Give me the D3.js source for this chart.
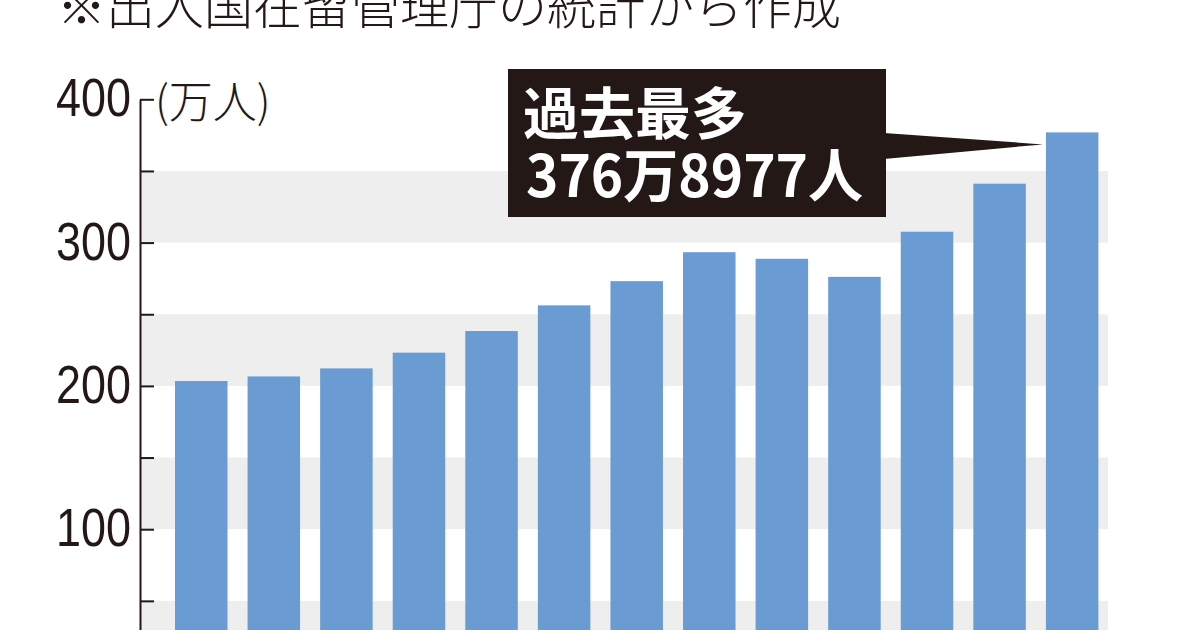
<!DOCTYPE html>
<html><head><meta charset="utf-8">
<script src="https://cdn.jsdelivr.net/npm/d3@7"></script>
<style>html,body{margin:0;padding:0;background:#fff;overflow:hidden;} svg{display:block;}</style>
</head><body>
<svg id="chart" width="1200" height="630"></svg>
<script>
// ---- data ----
const years = ["2012","2013","2014","2015","2016","2017","2018","2019","2020","2021","2022","2023","2024"];
const residents = [203.4, 206.6, 212.2, 223.2, 238.3, 256.2, 273.1, 293.3, 288.7, 276.1, 307.6, 341.1, 376.9];
const yTicks = [0, 50, 100, 150, 200, 250, 300, 350, 400];
const yLabelValues = [100, 200, 300, 400];
const yLabelTexts = ["100", "200", "300", "400"];
const shadedBands = [[0, 50], [100, 150], [200, 250], [300, 350]];
const titleText = "※出入国在留管理庁の統計から作成";
const unitText = "(万人)";
const calloutLines = ["過去最多", "376万8977人"];

// ---- setup ----
const svg = d3.select("#chart");
const ink = "#231815";
const barColor = "#6a9bd3";
const bandColor = "#eeeeee";
const cjk = "'Noto Sans CJK JP','Noto Sans CJK SC',sans-serif";
const latin = "'Liberation Sans Narrow','Liberation Sans',Arial,sans-serif";

const axisX = 140, plotRight = 1108;
const y = d3.scaleLinear().domain([0, 400]).range([672.5, 99.3]);
const x = d3.scaleBand().domain(years).range([164.9, 1108.5]).paddingInner(0.2767).paddingOuter(0.139);

// shaded bands
svg.append("g").selectAll("rect").data(shadedBands).join("rect")
  .attr("x", axisX + 1).attr("width", plotRight - axisX - 1)
  .attr("y", d => y(d[1])).attr("height", d => y(d[0]) - y(d[1]))
  .attr("fill", bandColor);

// bars
svg.append("g").selectAll("rect").data(residents).join("rect")
  .attr("x", (d, i) => x(years[i])).attr("width", x.bandwidth())
  .attr("y", d => y(d)).attr("height", d => y(0) - y(d))
  .attr("fill", barColor);

// axis
const axis = d3.axisRight(y).tickValues(yTicks).tickSize(14).tickSizeOuter(0).tickFormat("");
const gAxis = svg.append("g").attr("transform", `translate(${axisX},0)`).call(axis);
gAxis.selectAll("path,line").attr("stroke", ink).attr("stroke-width", 2);

// y labels (condensed)
svg.append("g").selectAll("text").data(yLabelValues).join("text")
  .attr("x", 131).attr("y", d => y(d) + 17)
  .attr("text-anchor", "end")
  .attr("font-family", latin).attr("font-size", 54).attr("fill", ink)
  .attr("textLength", (d, i) => yLabelTexts[i].length * 25)
  .attr("lengthAdjust", "spacingAndGlyphs")
  .text((d, i) => yLabelTexts[i]);

// unit
svg.append("text").attr("x", 155).attr("y", 118)
  .attr("font-family", cjk).attr("font-size", 44).attr("font-weight", 300).attr("fill", ink)
  .text(unitText);

// title
svg.append("text").attr("x", 57).attr("y", 24)
  .attr("font-family", cjk).attr("font-size", 49).attr("font-weight", 300).attr("fill", ink)
  .text(titleText);

// callout
const lastIdx = residents.length - 1;
const tipX = x(years[lastIdx]) - 3, tipY = y(residents[lastIdx]) + 12;
const box = {x0: 508, y0: 69, x1: 886, y1: 217};
const gC = svg.append("g");
gC.append("path")
  .attr("d", d3.line()([[box.x1 - 2, 133], [tipX, tipY], [box.x1 - 2, 159]]) + "Z")
  .attr("fill", ink);
gC.append("rect").attr("x", box.x0).attr("y", box.y0)
  .attr("width", box.x1 - box.x0).attr("height", box.y1 - box.y0).attr("fill", ink);
const ct = gC.append("text")
  .attr("font-family", cjk).attr("font-weight", 700).attr("fill", "#fff");
ct.append("tspan").attr("x", 523).attr("y", 134).attr("font-size", 56).text(calloutLines[0]);
ct.append("tspan").attr("x", 526).attr("y", 197).attr("font-size", 58)
  .attr("textLength", 337).attr("lengthAdjust", "spacingAndGlyphs")
  .text(calloutLines[1]);
</script>
</body></html>
